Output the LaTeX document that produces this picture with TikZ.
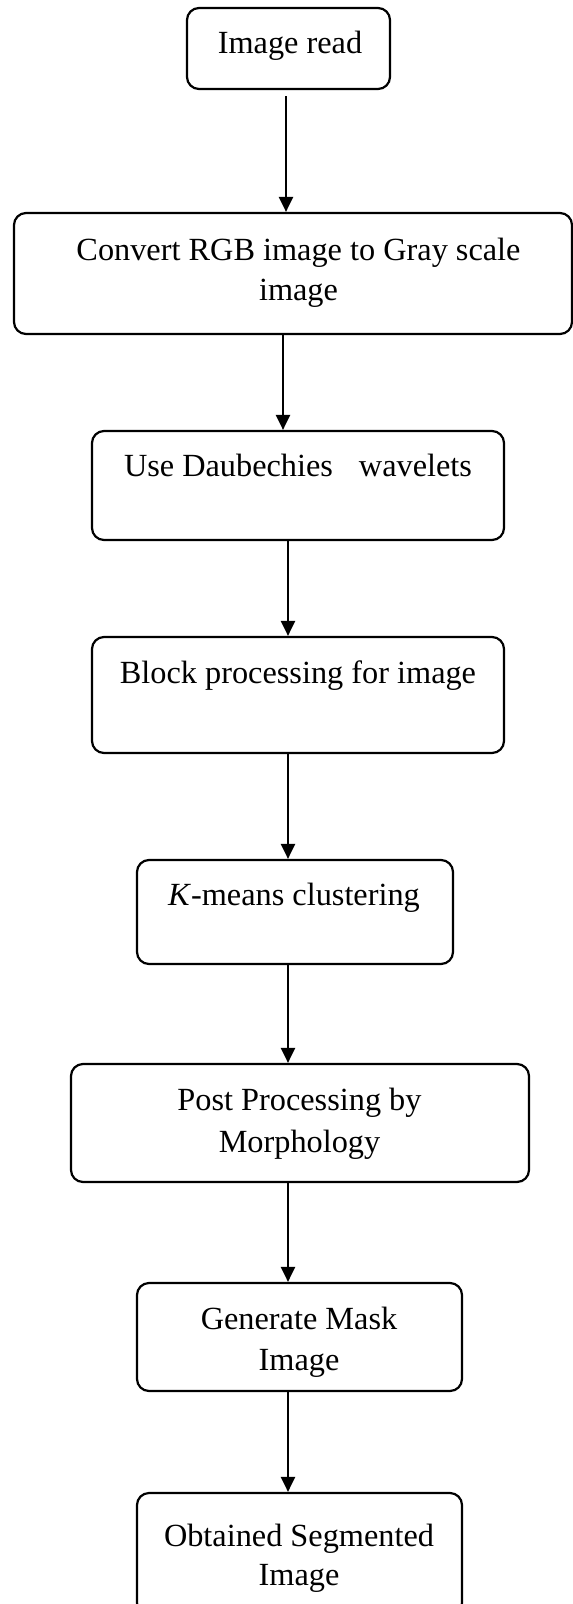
\documentclass[tikz,border=0pt]{standalone}
\usepackage{fontspec}
\setmainfont{Liberation Serif}
\usetikzlibrary{arrows.meta}
\tikzset{
  box/.style={draw, line width=2.2pt, rounded corners=12pt, inner sep=0pt},
  txt/.style={anchor=base, inner sep=0pt, font=\fontsize{32.3}{41}\selectfont},
  arrow/.style={line width=2.4pt, -{Triangle[length=15pt, width=14pt]}}
}
\begin{document}
\begin{tikzpicture}[x=1pt, y=-1pt]
\useasboundingbox (0,0) rectangle (573,1604);

% boxes: name / centre x / centre y / width / height
\foreach \n/\cx/\cy/\w/\h in {img/288.5/48.5/203/81, gray/293/273.5/558/121,
  wav/298/485.5/412/109, blk/298/695/412/116, km/295/912/316/104,
  post/300/1123/458/118, mask/299.5/1337/325/108, seg/299.5/1554/325/122}
{
\node[box, minimum width=\w, minimum height=\h] (\n) at (\cx,\cy) {};
}

% texts
\node[txt] (imgA) at (290,53) {Image read};
\node[txt] (grayA) at (298.5,260) {Convert RGB image to Gray scale};
\node[txt] (grayB) at (298.5,300) {image};
\node[txt] (wavA) at (298,476) {Use Daubechies\hspace{26pt}wavelets};
\node[txt] (blkA) at (298,683) {Block processing for image};
\node[txt] (kmA) at (294,905) {\textit{K}-means clustering};
\node[txt] (postA) at (299.5,1110) {Post Processing by};
\node[txt] (postB) at (299.5,1152) {Morphology};
\node[txt] (maskA) at (299,1329) {Generate Mask};
\node[txt] (maskB) at (299,1370) {Image};
\node[txt] (segA) at (299,1546) {Obtained Segmented};
\node[txt] (segB) at (299,1585) {Image};

% arrows
\draw[arrow, shorten <=6pt] (img.south -| 286,0) -- (gray.north -| 286,0);
\draw[arrow] (gray.south -| 283,0) -- (wav.north -| 283,0);
\foreach \a/\b in {wav/blk, blk/km, km/post, post/mask, mask/seg}
{
\draw[arrow] (\a.south -| 288,0) -- (\b.north -| 288,0);
}
\end{tikzpicture}
\end{document}
